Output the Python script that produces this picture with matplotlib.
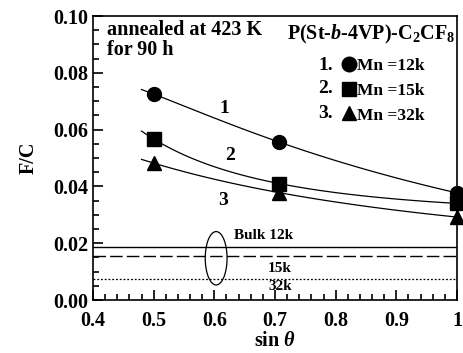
import numpy as np
import matplotlib.pyplot as plt
from matplotlib.lines import Line2D
from matplotlib.patches import Ellipse
from matplotlib.ticker import MultipleLocator

plt.rcParams['font.family'] = 'Liberation Serif'
plt.rcParams['font.weight'] = 'bold'
plt.rcParams['mathtext.fontset'] = 'custom'
plt.rcParams['mathtext.rm'] = 'Liberation Serif:bold'
plt.rcParams['mathtext.it'] = 'Liberation Serif:bold:italic'

sin_theta = [0.5, 0.707, 1.0]
fc_12k = [0.0725, 0.0556, 0.0377]
fc_15k = [0.0567, 0.0410, 0.0340]
fc_32k = [0.0482, 0.0378, 0.0292]
bulk = {'12k': 0.0188, '15k': 0.0154, '32k': 0.0075}

series = [('1', 'o', fc_12k, '12k'), ('2', 's', fc_15k, '15k'), ('3', '^', fc_32k, '32k')]

fig = plt.figure(figsize=(4.64, 3.53), dpi=100)
ax = fig.add_axes([93/464, 53/353, 364/464, 284/353])

# smooth fit in 1/sin(theta), as drawn in the original
xs = np.linspace(0.48, 1.0, 100)
handles = []
for num, mk, vals, mn in series:
    p = np.polyfit(1 / np.array(sin_theta), vals, 2)
    ax.plot(xs, np.polyval(p, 1 / xs), color='black', lw=0.9)
    ax.plot(sin_theta, vals, mk, color='black', ms=10, clip_on=False)
    handles.append(Line2D([], [], marker=mk, color='black', ls='none', ms=10.5))

ax.axhline(bulk['12k'], color='black', lw=1.0)
ax.axhline(bulk['15k'], color='black', lw=1.0, ls=(0, (9, 3)))
ax.axhline(bulk['32k'], color='black', lw=0.9, ls=(0, (1.5, 1.5)))
ax.add_patch(Ellipse((0.603, 0.0147), 0.036, 0.0188, fill=False, color='black', lw=0.9))

ax.text(0.617, 0.0676, '1', fontsize=14, ha='center', va='center')
ax.text(0.626, 0.051, '2', fontsize=14, ha='center', va='center')
ax.text(0.614, 0.035, '3', fontsize=14, ha='center', va='center')
ax.text(0.632, 0.0228, 'Bulk 12k', fontsize=11, ha='left', va='center')
ax.text(0.708, 0.0112, '15k', fontsize=11, ha='center', va='center')
ax.text(0.708, 0.0046, '32k', fontsize=11, ha='center', va='center')

ax.text(0.423, 0.0985, 'annealed at 423 K\nfor 90 h', fontsize=14.5, ha='left', va='top',
        linespacing=1.0)
ax.text(0.998, 0.0935, 'P(St-$\\mathit{b}$-4VP)-C$_2$CF$_8$', fontsize=14.5, ha='right',
        va='center')

leg = ax.legend(handles, ['Mn =12k', 'Mn =15k', 'Mn =32k'], loc='upper left',
                bbox_to_anchor=(0.683, 0.853), frameon=False, fontsize=12.5,
                handlelength=0.8, handletextpad=0.1, labelspacing=0.5,
                borderaxespad=0.0, borderpad=0.0)
for t in leg.get_texts():
    t.set_fontweight('bold')
for i, y in enumerate([0.0826, 0.0745, 0.0655]):
    ax.text(0.771, y, f'{i+1}.', fontsize=14, ha='left', va='center')

ax.set_xlim(0.4, 1.0)
ax.set_ylim(0.0, 0.10)
ax.xaxis.set_minor_locator(MultipleLocator(0.02))
ax.yaxis.set_minor_locator(MultipleLocator(0.005))
ax.set_xticks([0.4, 0.5, 0.6, 0.7, 0.8, 0.9, 1.0], ['0.4', '0.5', '0.6', '0.7', '0.8', '0.9', '1'])
ax.set_yticks([0.0, 0.02, 0.04, 0.06, 0.08, 0.10], ['0.00', '0.02', '0.04', '0.06', '0.08', '0.10'])
ax.tick_params(which='both', direction='in', top=False, right=False, labelsize=14.5, width=1.2)
ax.tick_params(which='major', length=7)
ax.tick_params(which='minor', length=4)
ax.tick_params(axis='x', pad=8)
for s in ax.spines.values():
    s.set_linewidth(1.2)
ax.set_xlabel('sin $\\mathit{\\theta}$', fontsize=14.5, fontweight='bold', labelpad=0)
ax.set_ylabel('F/C', fontsize=14.5, fontweight='bold', labelpad=10)

fig.savefig('out.png', dpi=100)
